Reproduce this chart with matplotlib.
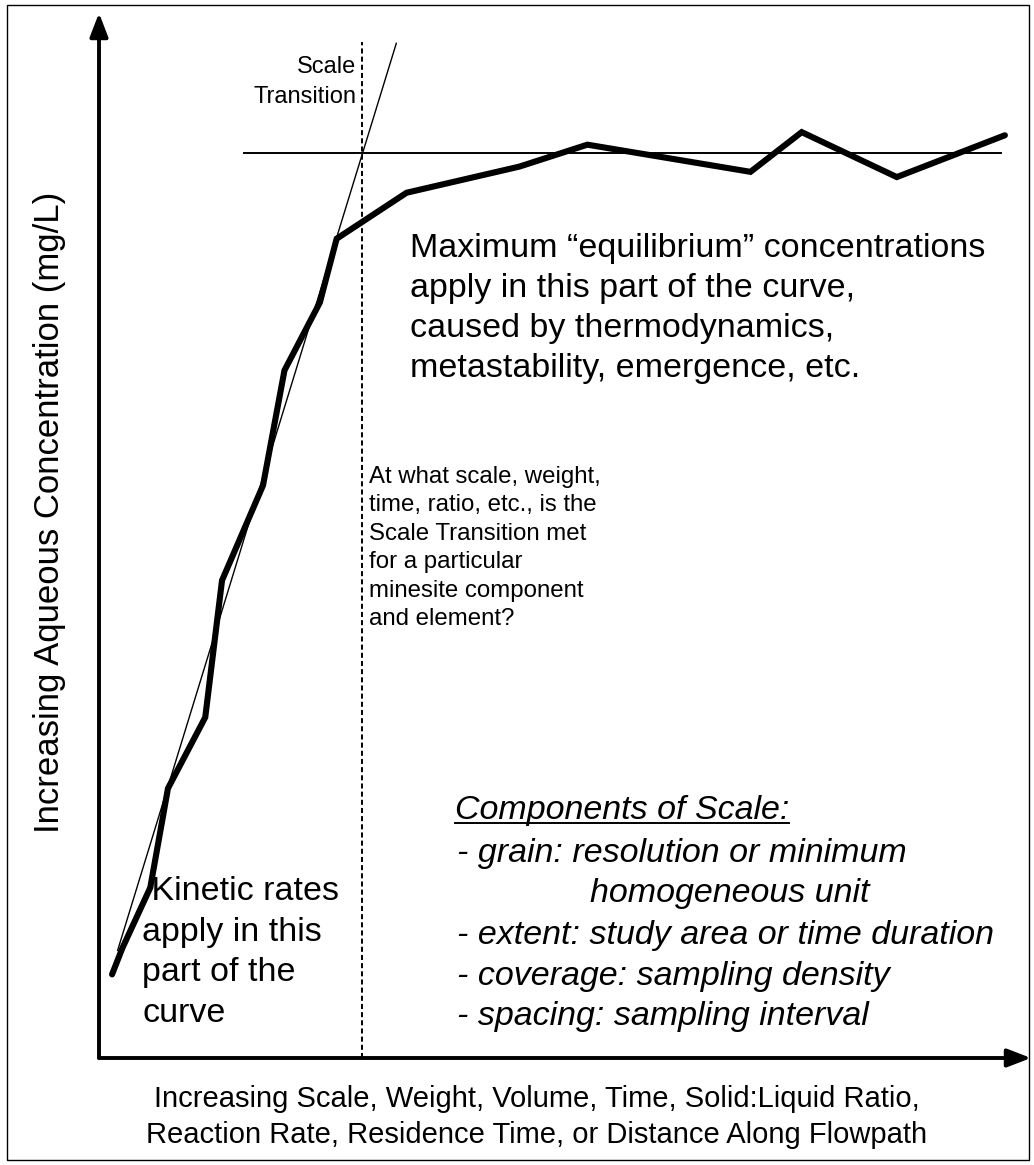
"""Conceptual scale-transition diagram: aqueous concentration vs. scale."""
import matplotlib
matplotlib.use("Agg")
import matplotlib.pyplot as plt
from matplotlib.lines import Line2D
from matplotlib.patches import FancyArrowPatch, Rectangle

W, H = 1034, 1165
plt.rcParams["font.family"] = ["Liberation Sans", "DejaVu Sans"]

# --- data (arbitrary relative units, axes run 0..10) ---
curve_x = [0.14, 0.25, 0.55, 0.74, 1.14, 1.32, 1.76, 1.99, 2.37, 2.55,
           3.30, 4.51, 5.24, 6.99, 7.54, 8.56, 9.72]
curve_y = [0.80, 1.05, 1.63, 2.58, 3.26, 4.57, 5.48, 6.58, 7.23, 7.84,
           8.28, 8.53, 8.74, 8.48, 8.86, 8.43, 8.83]
kinetic_x = [0.20, 3.19]          # straight kinetic trend
kinetic_y = [1.03, 9.71]
equil_x = [1.56, 9.68]            # equilibrium plateau
equil_y = [8.66, 8.66]
transition_x = 2.82               # scale transition
transition_top = 9.72

components = ["- grain: resolution or minimum",
              "homogeneous unit",
              "- extent: study area or time duration",
              "- coverage: sampling density",
              "- spacing: sampling interval"]
max_lines = ["Maximum \u201cequilibrium\u201d concentrations",
             "apply in this part of the curve,",
             "caused by thermodynamics,",
             "metastability, emergence, etc."]
kin_lines = [" Kinetic rates", "apply in this", "part of the", "curve"]
question = ("At what scale, weight,\ntime, ratio, etc., is the\nScale Transition met\n"
            "for a particular\nminesite component\nand element?")
xlabel = ("Increasing Scale, Weight, Volume, Time, Solid:Liquid Ratio,\n"
          "Reaction Rate, Residence Time, or Distance Along Flowpath")
ylabel = "Increasing Aqueous Concentration (mg/L)"


def px(x, y):
    return x / W, 1 - y / H


fig = plt.figure(figsize=(W / 100, H / 100), dpi=100)
x0, y0, x1, y1 = 99, 1058, 1031, 13
ax = fig.add_axes([x0 / W, 1 - y0 / H, (x1 - x0) / W, (y0 - y1) / H])
ax.set_xlim(0, 10)
ax.set_ylim(0, 10)
ax.axis("off")

# frame around the whole figure
fig.add_artist(Rectangle(px(7, 1160), 1022 / W, 1155 / H, transform=fig.transFigure,
                         fill=False, lw=1.0, ec="black"))

# axes arrows
for end in [(10, 0), (0, 10)]:
    ax.add_patch(FancyArrowPatch((0, 0), end, arrowstyle="-|>,head_length=0.65,head_width=0.25",
                                 mutation_scale=22, lw=2.8, color="black",
                                 shrinkA=0, shrinkB=0, clip_on=False))

ax.plot([transition_x, transition_x], [0, transition_top], color="black", lw=1.4,
        ls=(0, (2.6, 1.6)), clip_on=False)
ax.plot(equil_x, equil_y, color="black", lw=1.4, clip_on=False)
ax.plot(kinetic_x, kinetic_y, color="black", lw=1.0, clip_on=False)
ax.plot(curve_x, curve_y, color="black", lw=4.4, solid_capstyle="round",
        solid_joinstyle="miter", clip_on=False)

# texts
fig.text(*px(356, 67), "Scale", ha="right", va="center", fontsize=17)
fig.text(*px(356, 97), "Transition", ha="right", va="center", fontsize=17)

for i, s in enumerate(max_lines):
    fig.text(*px(410, 257 + 40 * i), s, ha="left", va="baseline", fontsize=24.5)

fig.text(*px(369, 466), question, ha="left", va="top", fontsize=17.3, linespacing=1.38)

for i, s in enumerate(kin_lines):
    fig.text(*px(142, 900 + 40.5 * i), s, ha="left", va="baseline", fontsize=24.5)

head = fig.text(*px(455, 819), "Components of Scale:", ha="left", va="baseline",
                fontsize=24.5, style="italic")
ys = [862, 902, 944, 985, 1025]
xs = [457, 590, 457, 457, 457]
for s, xx, yy in zip(components, xs, ys):
    fig.text(*px(xx, yy), s, ha="left", va="baseline", fontsize=24.5, style="italic")

fig.canvas.draw()
bb = head.get_window_extent()
ux0, _ = fig.transFigure.inverted().transform((bb.x0, 0))
ux1, _ = fig.transFigure.inverted().transform((bb.x1, 0))
fig.add_artist(Line2D([ux0, ux1], [1 - 823 / H] * 2, transform=fig.transFigure,
                      color="black", lw=1.4))

fig.text(*px(537, 1117), xlabel, ha="center", va="center", fontsize=21, linespacing=1.32)
fig.text(*px(50, 512), ylabel, ha="center", va="center", rotation=90, fontsize=25)

fig.savefig("out.png", dpi=100)
